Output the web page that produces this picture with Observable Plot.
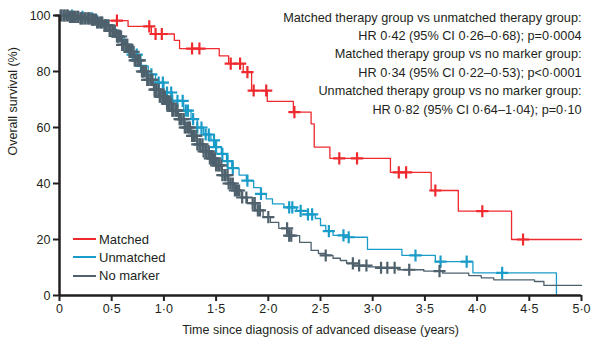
<!DOCTYPE html>
<html><head><meta charset="utf-8">
<script src="https://cdn.jsdelivr.net/npm/d3@7"></script>
<script src="https://cdn.jsdelivr.net/npm/@observablehq/plot@0.6"></script>
<style>
body{margin:0;background:#fff;}
#wrap{position:relative;width:601px;height:351px;font-family:"Liberation Sans",Arial,sans-serif;color:#231f20;}
#legend{position:absolute;left:73px;top:230px;font-size:13px;}
#legend .row{display:flex;align-items:center;height:18.3px;}
#legend .sw{display:inline-block;width:23px;height:0;border-top:2.5px solid;margin-right:3px;}
</style></head><body><div id="wrap"><div id="legend"></div></div>
<script>
const seriesNames = ["Matched", "Unmatched", "No marker"];
const seriesColors = ["#ee2a2f", "#1a9cc9", "#4e616d"];

// Matched (red) step curve
const matchedTime = [0, 0.25, 0.657, 0.88, 1.10, 1.15, 1.53, 1.62, 1.76, 1.84, 1.99, 2.24, 2.41, 2.44, 2.59, 3.17, 3.56, 3.82, 4.33, 5.0];
const matchedSurv = [100, 98.2, 96.1, 93.4, 91.1, 88.2, 85.6, 82.8, 79.8, 73.2, 69.3, 65.5, 61.3, 53.0, 49.0, 44.0, 37.5, 30.1, 20.0, 20.0];
const matchedCensor = [0.55, 0.86, 0.92, 0.98, 1.27, 1.34, 1.64, 1.73, 1.80, 1.86, 1.98, 2.25, 2.68, 2.85, 3.25, 3.32, 3.60, 4.05, 4.44];

// Unmatched (blue) step curve
const unmatchedTime = [0, 0.15, 0.25, 0.35, 0.42, 0.48, 0.55, 0.62, 0.70, 0.78, 0.85, 0.92, 1.00, 1.08, 1.19, 1.26, 1.32, 1.38, 1.45, 1.50, 1.55, 1.60, 1.65, 1.72, 1.79, 1.86, 1.93, 1.98, 2.04, 2.15, 2.27, 2.38, 2.45, 2.50, 2.55, 2.62, 2.74, 2.95, 3.28, 3.60, 3.96, 4.76];
const unmatchedSurv = [100, 99.5, 99, 98, 96.5, 95, 92.5, 89.5, 86, 82, 79, 76, 72.5, 69.5, 66, 63, 60, 57.5, 55.4, 53, 50.6, 48, 45.5, 43, 41, 38.5, 36.3, 34.5, 32.7, 31.5, 30.2, 29.0, 27.5, 25, 23, 21.5, 20.8, 16.5, 14.3, 12.1, 8.1, 0];
const unmatchedCensor = [0.12, 0.22, 0.31, 0.36, 0.45, 0.56, 0.64, 0.70, 0.74, 0.78, 0.88, 0.95, 0.99, 1.03, 1.07, 1.08, 1.13, 1.18, 1.21, 1.23, 1.28, 1.32, 1.36, 1.40, 1.43, 1.48, 1.50, 1.56, 1.61, 1.66, 1.80, 1.93, 2.20, 2.23, 2.31, 2.38, 2.42, 2.58, 2.72, 2.77, 3.41, 3.65, 3.90, 4.24];

// No marker (grey) step curve
const noMarkerTime = [0, 0.10, 0.20, 0.30, 0.36, 0.42, 0.48, 0.54, 0.60, 0.66, 0.72, 0.78, 0.84, 0.90, 0.96, 1.02, 1.08, 1.14, 1.20, 1.26, 1.32, 1.38, 1.44, 1.50, 1.56, 1.62, 1.68, 1.74, 1.80, 1.88, 1.95, 2.02, 2.10, 2.20, 2.30, 2.41, 2.48, 2.55, 2.62, 2.69, 2.75, 2.82, 2.96, 3.08, 3.24, 3.49, 3.67, 3.92, 4.04, 4.16, 4.55, 4.64, 5.0];
const noMarkerSurv = [100, 99.5, 99, 98.5, 97.5, 96.5, 94.5, 92.5, 89.5, 87, 84, 80, 77, 73.5, 71, 68.5, 66, 63, 60, 57, 54, 51.5, 49, 46.5, 43, 40, 37.5, 35, 33, 30.4, 28, 26.1, 24, 21.4, 19, 16.1, 15, 14.3, 13.3, 12.5, 11.5, 10.7, 10.2, 9.9, 9.2, 8.7, 8.0, 7.1, 6.3, 5.6, 5.0, 3.6, 3.6];
const noMarkerCensor = [0.01, 0.02, 0.04, 0.05, 0.07, 0.08, 0.1, 0.11, 0.12, 0.14, 0.15, 0.17, 0.18, 0.2, 0.21, 0.22, 0.24, 0.25, 0.27, 0.28, 0.29, 0.31, 0.32, 0.33, 0.35, 0.36, 0.37, 0.39, 0.4, 0.41, 0.43, 0.44, 0.45, 0.47, 0.48, 0.49, 0.51, 0.52, 0.53, 0.55, 0.56, 0.57, 0.59, 0.6, 0.61, 0.63, 0.64, 0.65, 0.67, 0.68, 0.69, 0.71, 0.72, 0.73, 0.75, 0.76, 0.77, 0.79, 0.8, 0.81, 0.83, 0.84, 0.85, 0.87, 0.88, 0.89, 0.91, 0.92, 0.93, 0.95, 0.96, 0.97, 0.99, 1.0, 1.01, 1.03, 1.04, 1.05, 1.07, 1.08, 1.09, 1.11, 1.12, 1.13, 1.15, 1.16, 1.17, 1.19, 1.2, 1.21, 1.23, 1.24, 1.25, 1.27, 1.28, 1.29, 1.31, 1.32, 1.34, 1.35, 1.37, 1.38, 1.4, 1.41, 1.43, 1.44, 1.46, 1.47, 1.49, 1.5, 1.52, 1.53, 1.55, 1.56, 1.58, 1.59, 1.61, 1.62, 1.64, 1.66, 1.68, 1.7, 1.72, 1.75, 1.79, 1.85, 1.87, 1.9, 1.92, 2.0, 2.18, 2.2, 2.22, 2.55, 2.81, 2.87, 2.94, 3.08, 3.14, 3.21, 3.35, 3.64];

const xTicks = [0, 0.5, 1, 1.5, 2, 2.5, 3, 3.5, 4, 4.5, 5];
const xTickLabels = ["0", "0·5", "1·0", "1·5", "2·0", "2·5", "3·0", "3·5", "4·0", "4·5", "5·0"];
const yTicks = [0, 20, 40, 60, 80, 100];
const yTickLabels = ["0", "20", "40", "60", "80", "100"];
const xLabel = "Time since diagnosis of advanced disease (years)";
const yLabel = "Overall survival (%)";
const annotationLines = [
  "Matched therapy group vs unmatched therapy group:",
  "HR 0·42 (95% CI 0·26–0·68); p=0·0004",
  "Matched therapy group vs no marker group:",
  "HR 0·34 (95% CI 0·22–0·53); p<0·0001",
  "Unmatched therapy group vs no marker group:",
  "HR 0·82 (95% CI 0·64–1·04); p=0·10"
];

const curves = [
  [matchedTime, matchedSurv, matchedCensor],
  [unmatchedTime, unmatchedSurv, unmatchedCensor],
  [noMarkerTime, noMarkerSurv, noMarkerCensor]
];
function survAt(times, survs, t) {
  let v = survs[0];
  for (let i = 0; i < times.length; i++) { if (times[i] <= t) v = survs[i]; else break; }
  return v;
}
const ink = "#231f20";
const marks = [];
curves.forEach(([times, survs, censors], k) => {
  const rows = times.map((t, i) => ({t, s: survs[i]}));
  const cens = censors.map(t => ({t, s: survAt(times, survs, t)}));
  marks.push(Plot.line(rows, {x: "t", y: "s", curve: "step-after", stroke: seriesColors[k], strokeWidth: 1.3}));
  marks.push(Plot.dot(cens, {x: "t", y: "s", symbol: "plus", r: 4, stroke: seriesColors[k], strokeWidth: 2.2}));
});

const chart = Plot.plot({
  width: 601, height: 351,
  marginLeft: 59, marginRight: 20, marginTop: 15, marginBottom: 56,
  x: {domain: [0, 5]},
  y: {domain: [0, 100]},
  style: {fontFamily: "'Liberation Sans', Arial, sans-serif", fontSize: "12.5px", color: ink, background: "white"},
  marks: [
    ...marks,
    Plot.axisX({ticks: xTicks, tickFormat: d => xTickLabels[xTicks.indexOf(d)], tickSize: 6, tickPadding: 3, strokeWidth: 2, stroke: ink, fill: ink, label: null, fontSize: 12.5}),
    Plot.axisY({ticks: yTicks, tickFormat: d => yTickLabels[yTicks.indexOf(d)], tickSize: 6, tickPadding: 3, strokeWidth: 2, stroke: ink, fill: ink, label: null, fontSize: 12.5}),
    Plot.ruleY([0], {stroke: ink, strokeWidth: 2.5}),
    Plot.ruleX([0], {stroke: ink, strokeWidth: 2.5}),
    Plot.text([xLabel], {frameAnchor: "bottom", dy: 38, fill: ink, fontSize: 12.5}),
    Plot.text([yLabel], {frameAnchor: "left", dx: -47, rotate: -90, fill: ink, fontSize: 12.5}),
    Plot.text([annotationLines.join("\n")], {frameAnchor: "top-right", textAnchor: "end", lineAnchor: "top", dy: -7, lineHeight: 1.45, fill: ink, fontSize: 12.7})
  ]
});
const wrap = document.getElementById("wrap");
wrap.insertBefore(chart, wrap.firstChild);

const legend = document.getElementById("legend");
seriesNames.forEach((name, k) => {
  const row = document.createElement("div");
  row.className = "row";
  const sw = document.createElement("span");
  sw.className = "sw";
  sw.style.borderTopColor = seriesColors[k];
  row.appendChild(sw);
  row.appendChild(document.createTextNode(name));
  legend.appendChild(row);
});
</script>
</body></html>
